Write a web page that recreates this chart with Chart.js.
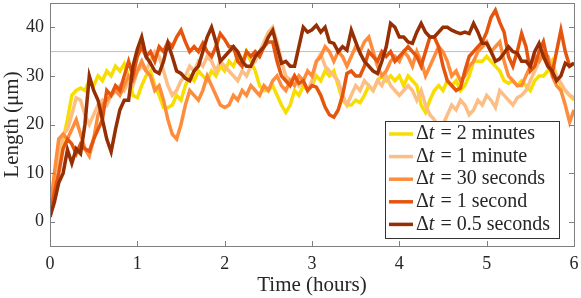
<!DOCTYPE html>
<html>
<head>
<meta charset="utf-8">
<script src="https://cdn.jsdelivr.net/npm/chart.js@4/dist/chart.umd.min.js"></script>
<style>
  html, body { margin: 0; padding: 0; background: #fff; }
</style>
</head>
<body>
<canvas id="chart" width="581" height="298"></canvas>
<script>
// time grid, every 3 minutes
const hours = Array.from({ length: 121 }, (_, i) => +(i * 0.05).toFixed(2));

const dt2min = [1, 6, 12, 17, 21, 26, 27, 27.5, 27, 29, 28, 30, 29, 31, 30, 32, 31, 32.5, 30, 26,
  25.5, 28, 30, 31, 28, 26, 23.5, 23.5, 24, 26, 25, 28, 30, 29, 31, 30, 29, 31, 30, 32,
  31, 33, 32, 34, 33, 35, 33, 31, 28, 27, 27, 28, 26, 24, 22.5, 24, 27, 26, 28, 27,
  28, 30, 29, 31, 30, 31, 28, 25, 24, 24, 25, 24.5, 26, 28, 27, 29, 30, 29, 30, 29,
  30, 28, 30, 29, 28, 24, 22.5, 25, 27, 28, 27, 29, 28, 29, 27, 28, 30, 33, 33, 33,
  34, 33, 32, 31, 29, 28.5, 29, 28, 29, 28, 27, 29, 30, 30, 31, 33, 30, 28, 27, 26, 25];

const dt1min = [2, 8, 14, 18, 19, 22, 25.5, 25, 22, 20, 22, 24, 25, 24, 26, 27, 28, 27, 29, 28,
  31, 32, 31, 33, 35, 34, 31, 28, 26, 27, 29, 30, 32, 31, 33, 32, 34, 33, 31, 33,
  32, 31, 30, 29, 31, 30, 32, 33, 35, 37, 39, 40, 37, 33, 30, 29, 30, 28, 29, 27,
  29, 33, 34.5, 32, 31, 30, 29, 26, 24, 26, 28, 27, 29, 28, 27, 29, 28, 30, 28, 27,
  26, 27, 28, 27, 25, 27, 24, 22, 21, 19, 20, 22, 24, 23, 25, 24, 22, 23, 25, 24,
  26, 25, 23.5, 27, 26, 25, 24, 25.5, 26, 27, 29, 31, 33, 34, 34, 32, 30, 28.5, 27, 26, 25.5];

const dt30s = [2, 10, 17, 18, 17, 19, 21, 18, 15, 13.5, 17, 22, 24, 25, 26, 27, 26, 28, 30, 29,
  31, 33, 31, 30, 27, 28, 25, 21, 18, 17, 20, 24, 27, 26, 25, 27, 30, 28, 26, 24,
  23.5, 24, 26, 25, 27, 26, 28, 27, 26, 28, 27, 29, 30, 28, 27, 29, 28, 30, 29, 31,
  30, 33, 34, 36, 35, 33, 35, 34, 32, 34, 36, 35, 37, 38, 35, 32, 30, 31, 33, 34,
  33, 35, 34, 32, 35, 33, 30, 32, 34, 36, 35, 33, 30, 31, 29, 30, 32, 33, 35, 36,
  37, 35, 36, 37, 33, 30, 29, 28, 28, 30, 32, 34, 33, 35, 34, 30, 28, 27, 24, 20.5, 23];

const dt1s = [1, 6, 10, 15, 17, 16, 14, 16, 15, 14.5, 17, 19, 21, 27, 26, 28, 27, 30, 33, 30,
  34, 36, 34, 35, 33, 36, 35, 37, 36, 38, 39.4, 37, 35, 36, 35, 36.7, 35, 34, 36, 38.7,
  37.5, 36, 36, 33, 32, 35, 34, 35, 34, 36, 37, 37, 33, 30, 29, 28, 30, 28.5, 29, 27,
  28, 27.7, 26, 23.6, 22, 21.5, 23, 26, 30.5, 31, 30, 30, 32, 35, 34, 33, 35, 34, 35, 33,
  34, 35, 36, 35, 34, 32, 35, 38, 38, 36, 32, 29, 28, 27, 27.5, 31, 34, 35, 36, 37,
  39, 42, 43.5, 41, 39, 34, 32, 35, 38.7, 36, 31, 32, 35, 37, 33, 30.5, 35, 39.4, 35, 32, 32.6];

const dt05s = [1, 4, 8, 10, 14.8, 12, 15, 14, 20, 30, 27, 25, 21, 17, 14.4, 19, 23, 25, 25, 32,
  35.5, 38, 34, 32.6, 31, 30.5, 33, 36.7, 34, 31, 30.5, 29.5, 29, 31, 32, 35, 38, 40, 37, 33,
  34, 35, 36, 35, 33, 32, 32, 34, 35, 36, 38, 39.4, 36, 32.6, 33, 32, 32, 36, 40, 39,
  39.5, 40.4, 39, 40, 37, 36.7, 35, 36, 35.3, 39.4, 37, 34.7, 33, 32, 31, 30.5, 33, 36, 40.8, 40,
  38, 38, 37, 36.7, 39, 40.8, 39, 38, 38, 39, 40, 40, 39.4, 39, 38.7, 39, 38.7, 40.8, 39, 36.7,
  36.7, 35, 33, 33.5, 34.7, 36, 35, 34.7, 33, 33, 32, 35, 36.7, 34, 32, 31, 29, 30, 32.6, 32, 32.6];

const seriesValues = [dt2min, dt1min, dt30s, dt1s, dt05s];
const seriesNames = ["2 minutes", "1 minute", "30 seconds", "1 second", "0.5 seconds"];
const seriesColors = ["#f7de00", "#fdbe85", "#fd8d3c", "#e6550d", "#972f04"];
const xTicks = [0, 1, 2, 3, 4, 5, 6];
const yTicks = [0, 10, 20, 30, 40];
const refLevel = 35;

const serif = "'Liberation Serif', 'DejaVu Serif', serif";

const datasets = seriesValues.map((vals, k) => ({
  label: "\u0394t = " + seriesNames[k],
  data: vals.map((v, i) => ({ x: hours[i], y: v })),
  borderColor: seriesColors[k],
  borderWidth: 3.5,
  pointRadius: 0,
  tension: 0,
  order: 5 - k,
}));
datasets.push({
  label: "ref",
  data: [{ x: xTicks[0], y: refLevel }, { x: xTicks[xTicks.length - 1], y: refLevel }],
  borderColor: "#bdbdbd",
  borderWidth: 1,
  pointRadius: 0,
  order: 10,
});

// box round the plot with inward tick marks, like matlab
const boxTicks = {
  id: "boxTicks",
  afterDatasetsDraw(chart) {
    const { ctx, chartArea: a, scales } = chart;
    ctx.save();
    ctx.strokeStyle = "#7f7f7f";
    ctx.lineWidth = 1;
    ctx.beginPath();
    xTicks.forEach(t => {
      const px = Math.round(scales.x.getPixelForValue(t)) + 0.5;
      ctx.moveTo(px, a.bottom); ctx.lineTo(px, a.bottom - 5);
      ctx.moveTo(px, a.top); ctx.lineTo(px, a.top + 5);
    });
    yTicks.forEach(t => {
      const py = Math.round(scales.y.getPixelForValue(t)) + 0.5;
      ctx.moveTo(a.left, py); ctx.lineTo(a.left + 5, py);
      ctx.moveTo(a.right, py); ctx.lineTo(a.right - 5, py);
    });
    ctx.stroke();
    ctx.strokeRect(Math.round(a.left) + 0.5, Math.round(a.top) + 0.5,
      Math.round(a.right - a.left), Math.round(a.bottom - a.top));
    ctx.restore();
  },
};

// legend box in the lower right of the plot
const boxLegend = {
  id: "boxLegend",
  afterDraw(chart) {
    const { ctx } = chart;
    const x0 = 385.5, y0 = 121.5, w = 174, h = 117, rowH = 22.6;
    ctx.save();
    ctx.fillStyle = "#fff";
    ctx.fillRect(x0, y0, w, h);
    ctx.strokeStyle = "#333";
    ctx.lineWidth = 1;
    ctx.strokeRect(x0, y0, w, h);
    seriesNames.forEach((name, k) => {
      const cy = y0 + 12.5 + k * rowH;
      ctx.strokeStyle = seriesColors[k];
      ctx.lineWidth = 3.5;
      ctx.beginPath();
      ctx.moveTo(389, cy); ctx.lineTo(413, cy);
      ctx.stroke();
      ctx.fillStyle = "#262626";
      ctx.textBaseline = "middle";
      let tx = 416;
      ctx.font = "20px " + serif;
      ctx.fillText("\u0394", tx, cy);
      tx += ctx.measureText("\u0394").width;
      ctx.font = "italic 20px " + serif;
      ctx.fillText("t", tx, cy);
      tx += ctx.measureText("t").width + 1;
      ctx.font = "20px " + serif;
      ctx.fillText(" = " + name, tx, cy);
    });
    ctx.restore();
  },
};

new Chart(document.getElementById("chart"), {
  type: "line",
  data: { datasets },
  options: {
    responsive: false,
    animation: false,
    devicePixelRatio: 1,
    layout: { padding: { top: 3, right: 7, left: 0, bottom: 0 } },
    plugins: { legend: { display: false }, tooltip: { enabled: false } },
    scales: {
      x: {
        type: "linear",
        min: 0,
        max: 6,
        afterFit: s => { s.height = 52; s.paddingLeft = 0; s.paddingRight = 0; },
        afterBuildTicks: s => { s.ticks = xTicks.map(v => ({ value: v })); },
        grid: { display: false, drawTicks: false },
        border: { display: false },
        ticks: { color: "#262626", padding: 7, font: { family: serif, size: 18 } },
        title: { display: true, text: "Time (hours)", color: "#262626", padding: { top: -2, bottom: 0 },
          font: { family: serif, size: 21 } },
      },
      y: {
        min: -5,
        max: 45,
        afterFit: s => { s.width = 50; s.paddingTop = 0; s.paddingBottom = 0; },
        afterBuildTicks: s => { s.ticks = yTicks.map(v => ({ value: v })); },
        grid: { display: false, drawTicks: false },
        border: { display: false },
        ticks: { color: "#262626", padding: 6, font: { family: serif, size: 18 } },
        title: { display: true, text: "Length (\u03bcm)", color: "#262626", padding: { top: 0, bottom: 0 },
          font: { family: serif, size: 21 } },
      },
    },
  },
  plugins: [boxTicks, boxLegend],
});
</script>
</body>
</html>
